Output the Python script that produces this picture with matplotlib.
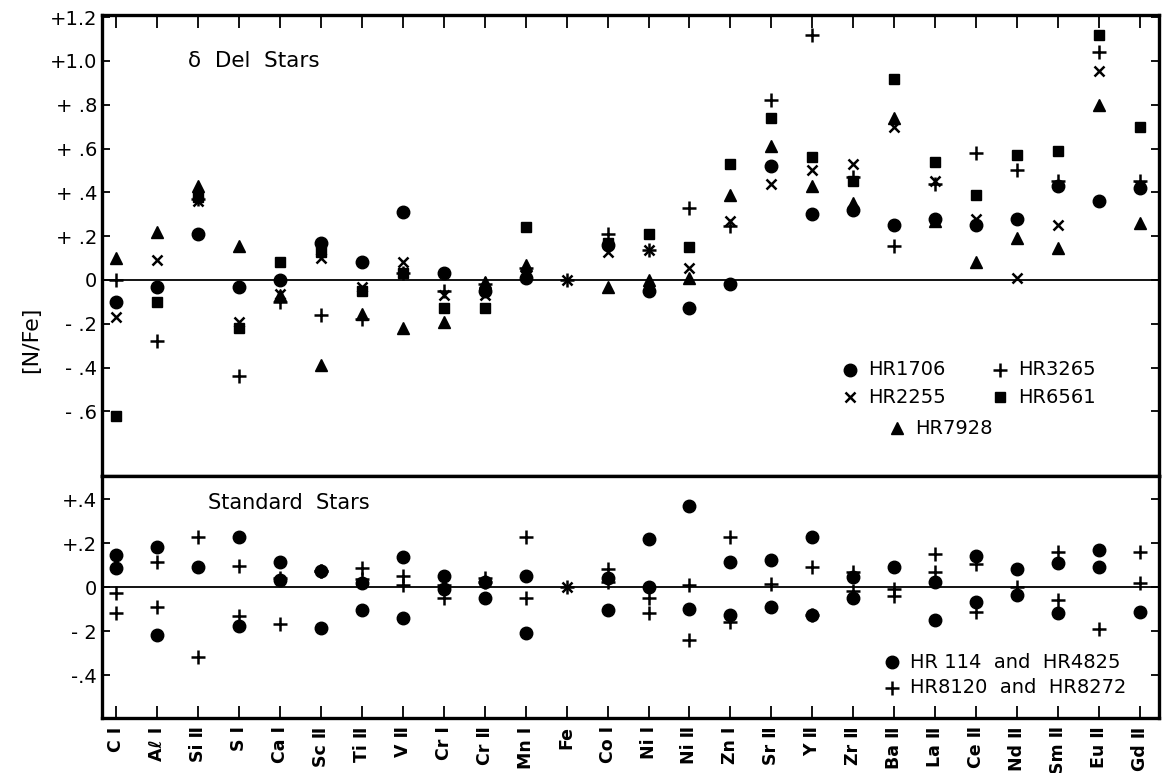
import numpy as np
import matplotlib
matplotlib.use("Agg")
import matplotlib.pyplot as plt

nan = np.nan

# species along the abscissa
species = ["C Ⅰ", "Aℓ Ⅰ", "Si Ⅱ", "S Ⅰ", "Ca Ⅰ", "Sc Ⅱ", "Ti Ⅱ", "V Ⅱ", "Cr Ⅰ",
           "Cr Ⅱ", "Mn Ⅰ", "Fe", "Co Ⅰ", "Ni Ⅰ", "Ni Ⅱ", "Zn Ⅰ", "Sr Ⅱ", "Y Ⅱ",
           "Zr Ⅱ", "Ba Ⅱ", "La Ⅱ", "Ce Ⅱ", "Nd Ⅱ", "Sm Ⅱ", "Eu Ⅱ", "Gd Ⅱ"]

# delta Del stars, [N/Fe]
hr1706 = [-0.10, -0.03, 0.21, -0.03, 0.00, 0.17, 0.08, 0.31, 0.03, -0.05, 0.01, nan,
          0.16, -0.05, -0.13, -0.02, 0.52, 0.30, 0.32, 0.25, 0.28, 0.25, 0.28, 0.43,
          0.36, 0.42]
hr2255 = [-0.17, 0.09, 0.36, -0.19, -0.065, 0.10, -0.03, 0.08, -0.07, -0.07, 0.02, 0.0,
          0.13, 0.135, 0.055, 0.27, 0.44, 0.50, 0.53, 0.70, 0.45, 0.28, 0.01, 0.25,
          0.955, 0.43]
hr3265 = [0.0, -0.28, 0.37, -0.44, -0.10, -0.16, -0.18, 0.03, -0.05, -0.02, 0.055, 0.0,
          0.21, 0.135, 0.33, 0.245, 0.82, 1.12, 0.47, 0.155, 0.44, 0.58, 0.50, 0.45,
          1.04, 0.45]
hr6561 = [-0.62, -0.10, 0.38, -0.22, 0.08, 0.13, -0.05, 0.03, -0.13, -0.13, 0.24, nan,
          0.17, 0.21, 0.15, 0.53, 0.74, 0.56, 0.45, 0.92, 0.54, 0.39, 0.57, 0.59,
          1.12, 0.70]
hr7928 = [0.10, 0.22, 0.43, 0.155, -0.07, -0.39, -0.155, -0.22, -0.19, -0.01, 0.07, nan,
          -0.03, 0.0, 0.01, 0.39, 0.61, 0.43, 0.35, 0.74, 0.27, 0.08, 0.19, 0.145,
          0.80, 0.26]

# standard stars: HR 114 / HR 4825 (dots), HR 8120 / HR 8272 (crosses)
std_dot_a = [0.145, 0.18, 0.09, 0.23, 0.115, 0.075, 0.02, 0.135, 0.05, 0.025, 0.05, nan,
             0.04, 0.22, 0.37, 0.115, 0.125, 0.23, 0.045, 0.09, 0.025, 0.14, 0.08, 0.11,
             0.17, nan]
std_dot_b = [0.085, -0.22, nan, -0.175, 0.03, -0.185, -0.105, -0.14, -0.01, -0.05, -0.21,
             nan, -0.105, 0.0, -0.10, -0.125, -0.09, -0.125, -0.05, nan, -0.15, -0.07,
             -0.035, -0.12, 0.09, -0.115]
std_plus_a = [-0.025, 0.115, 0.23, 0.095, 0.04, 0.075, 0.085, 0.05, 0.01, 0.04, 0.23, 0.0,
              0.08, -0.05, 0.01, 0.23, 0.015, 0.09, 0.07, -0.01, 0.15, 0.105, 0.0, 0.16,
              -0.19, 0.16]
std_plus_b = [-0.12, -0.09, -0.32, -0.13, -0.17, 0.075, 0.035, 0.01, -0.05, 0.025, -0.05,
              nan, 0.025, -0.12, -0.24, -0.16, nan, -0.125, -0.02, -0.04, 0.07, -0.115,
              nan, -0.06, nan, 0.02]
fe_ref = 0.0

top_ticks = [1.2, 1.0, 0.8, 0.6, 0.4, 0.2, 0.0, -0.2, -0.4, -0.6]
top_ticklabels = ["+1.2", "+1.0", "+ .8", "+ .6", "+ .4", "+ .2", "0", "- .2", "- .4", "- .6"]
bot_ticks = [0.4, 0.2, 0.0, -0.2, -0.4]
bot_ticklabels = ["+.4", "+.2", "0", "- 2", "-.4"]

x = np.arange(len(species))

fig = plt.figure(figsize=(11.63, 7.73), dpi=100)
ax1 = fig.add_axes([0.0877, 0.3842, 0.9089, 0.5964])
ax2 = fig.add_axes([0.0877, 0.0712, 0.9089, 0.3130])

sty = dict(color="black", linestyle="none", zorder=3)
mk = {
    "o": dict(marker="o", ms=9),
    "x": dict(marker="x", ms=7.5, mew=1.8),
    "+": dict(marker="+", ms=10.5, mew=1.8),
    "s": dict(marker="s", ms=7.5),
    "^": dict(marker="^", ms=9),
}

# upper panel
for vals, m in [(hr1706, "o"), (hr2255, "x"), (hr3265, "+"), (hr6561, "s"), (hr7928, "^")]:
    ax1.plot(x, vals, **mk[m], **sty)

# lower panel
for vals, m in [(std_dot_a, "o"), (std_dot_b, "o"), (std_plus_a, "+"), (std_plus_b, "+")]:
    ax2.plot(x, vals, **mk[m], **sty)
ax2.plot([species.index("Fe")], [fe_ref], **mk["x"], **sty)

for ax in (ax1, ax2):
    ax.axhline(0, color="black", lw=1.3, zorder=1)
    ax.set_xlim(-0.35, 25.47)
    ax.set_xticks(x)
    for s in ax.spines.values():
        s.set_linewidth(2.4)
    ax.tick_params(axis="both", direction="in", width=1.3, top=True, right=True,
                   labelsize=14)
    ax.tick_params(axis="x", length=9)
    ax.tick_params(axis="y", length=6)

ax1.set_ylim(-0.895, 1.21)
ax1.set_yticks(top_ticks)
ax1.set_yticklabels(top_ticklabels)
ax1.tick_params(axis="x", bottom=False, labelbottom=False)

ax2.set_ylim(-0.595, 0.505)
ax2.set_yticks(bot_ticks)
ax2.set_yticklabels(bot_ticklabels)
ax2.tick_params(axis="x", top=False)
ax2.set_xticklabels(species, rotation=90, fontsize=12.5, fontweight="bold", va="top")
ax2.tick_params(axis="x", pad=6)

ax1.text(0.081, 0.90, "δ  Del  Stars", transform=ax1.transAxes, fontsize=15.5,
         ha="left", va="center")
ax2.text(0.10, 0.89, "Standard  Stars", transform=ax2.transAxes, fontsize=15,
         ha="left", va="center")

fig.text(0.027, 0.56, "[N/Fe]", rotation=90, fontsize=16, ha="center", va="center")

# key, upper panel
key1 = [("o", "HR1706", 0.708, 0.230), ("+", "HR3265", 0.850, 0.230),
        ("x", "HR2255", 0.708, 0.171), ("s", "HR6561", 0.850, 0.171),
        ("^", "HR7928", 0.752, 0.104)]
for m, lab, kx, ky in key1:
    ax1.plot([kx], [ky], transform=ax1.transAxes, clip_on=False, **mk[m], **sty)
    ax1.text(kx + 0.017, ky, lab, transform=ax1.transAxes, fontsize=14,
             ha="left", va="center")

# key, lower panel
key2 = [("o", "HR 114  and  HR4825", 0.747, 0.231),
        ("+", "HR8120  and  HR8272", 0.747, 0.124)]
for m, lab, kx, ky in key2:
    ax2.plot([kx], [ky], transform=ax2.transAxes, clip_on=False, **mk[m], **sty)
    ax2.text(kx + 0.017, ky, lab, transform=ax2.transAxes, fontsize=14,
             ha="left", va="center")

fig.savefig("out.png", dpi=100, facecolor="white")
